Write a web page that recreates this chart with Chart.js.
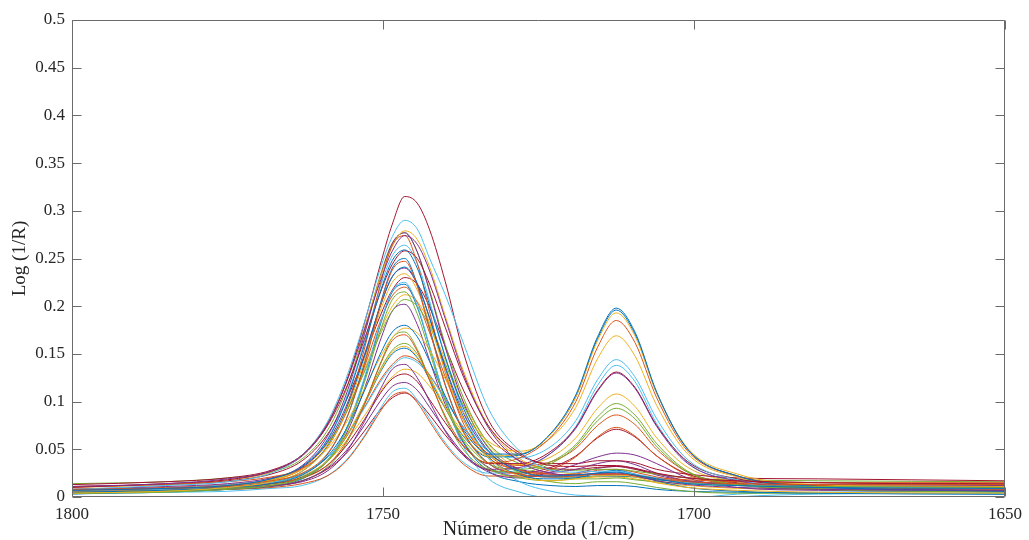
<!DOCTYPE html>
<html>
<head>
<meta charset="utf-8">
<title>Log (1/R)</title>
<script src="https://cdn.jsdelivr.net/npm/chart.js@4.4.1/dist/chart.umd.min.js"></script>
<style>
  html, body { margin: 0; padding: 0; background: #fff; }
  #wrap { width: 1029px; height: 540px; }
</style>
</head>
<body>
<div id="wrap"><canvas id="chart-spectra" width="1029" height="540"></canvas></div>
<script>
// Sampling points along the x axis (1/cm), high to low
const wavenumbers = [1800, 1785, 1775, 1768, 1763, 1759, 1756, 1753, 1750.5, 1748.5, 1746.5, 1744.5, 1742.5,
  1740, 1737, 1733, 1728, 1723, 1719, 1715.5, 1712.5, 1709.5, 1706, 1701, 1693, 1680, 1650];

// Log(1/R) per sample, one row per spectrum
const spectra = [
  [0.007, 0.009, 0.012, 0.019, 0.032, 0.059, 0.100, 0.159, 0.214, 0.248, 0.259, 0.240, 0.201, 0.147, 0.092, 0.048, 0.027, 0.022, 0.023, 0.025, 0.026, 0.023, 0.019, 0.014, 0.012, 0.010, 0.009],
  [0.008, 0.009, 0.012, 0.017, 0.025, 0.045, 0.080, 0.138, 0.199, 0.238, 0.247, 0.221, 0.175, 0.117, 0.067, 0.035, 0.024, 0.021, 0.022, 0.024, 0.024, 0.023, 0.019, 0.016, 0.014, 0.013, 0.013],
  [0.004, 0.006, 0.010, 0.016, 0.027, 0.052, 0.089, 0.143, 0.194, 0.225, 0.234, 0.217, 0.182, 0.132, 0.081, 0.041, 0.022, 0.017, 0.019, 0.022, 0.023, 0.021, 0.015, 0.010, 0.007, 0.005, 0.004],
  [0.011, 0.014, 0.019, 0.027, 0.044, 0.076, 0.118, 0.175, 0.225, 0.258, 0.274, 0.265, 0.237, 0.187, 0.128, 0.072, 0.037, 0.025, 0.023, 0.024, 0.024, 0.022, 0.017, 0.013, 0.010, 0.008, 0.007],
  [0.004, 0.006, 0.009, 0.012, 0.020, 0.037, 0.068, 0.120, 0.173, 0.207, 0.215, 0.192, 0.152, 0.101, 0.058, 0.030, 0.020, 0.017, 0.019, 0.019, 0.020, 0.018, 0.016, 0.014, 0.012, 0.011, 0.010],
  [0.008, 0.012, 0.016, 0.025, 0.044, 0.078, 0.123, 0.183, 0.238, 0.273, 0.290, 0.281, 0.250, 0.212, 0.160, 0.092, 0.048, 0.028, 0.026, 0.027, 0.027, 0.024, 0.020, 0.015, 0.012, 0.011, 0.009],
  [0.010, 0.014, 0.018, 0.027, 0.043, 0.075, 0.119, 0.182, 0.242, 0.286, 0.315, 0.308, 0.280, 0.226, 0.150, 0.080, 0.046, 0.033, 0.032, 0.033, 0.033, 0.030, 0.025, 0.020, 0.017, 0.015, 0.013],
  [0.005, 0.007, 0.010, 0.014, 0.023, 0.042, 0.070, 0.111, 0.149, 0.173, 0.180, 0.168, 0.142, 0.106, 0.070, 0.045, 0.045, 0.067, 0.107, 0.168, 0.198, 0.173, 0.110, 0.050, 0.022, 0.011, 0.006],
  [0.008, 0.009, 0.011, 0.014, 0.020, 0.033, 0.057, 0.097, 0.138, 0.164, 0.170, 0.153, 0.122, 0.085, 0.053, 0.036, 0.041, 0.063, 0.100, 0.157, 0.185, 0.162, 0.104, 0.048, 0.022, 0.012, 0.008],
  [0.006, 0.007, 0.010, 0.014, 0.022, 0.038, 0.063, 0.098, 0.131, 0.152, 0.158, 0.147, 0.125, 0.094, 0.064, 0.043, 0.045, 0.066, 0.105, 0.164, 0.193, 0.169, 0.109, 0.051, 0.024, 0.013, 0.009],
  [0.006, 0.007, 0.009, 0.012, 0.016, 0.027, 0.046, 0.079, 0.112, 0.134, 0.139, 0.125, 0.100, 0.069, 0.043, 0.029, 0.031, 0.046, 0.072, 0.111, 0.130, 0.114, 0.074, 0.035, 0.017, 0.010, 0.007],
  [0.004, 0.005, 0.008, 0.012, 0.020, 0.037, 0.062, 0.099, 0.133, 0.154, 0.161, 0.150, 0.126, 0.093, 0.060, 0.035, 0.029, 0.037, 0.055, 0.084, 0.098, 0.086, 0.056, 0.027, 0.013, 0.008, 0.005],
  [0.006, 0.008, 0.010, 0.015, 0.024, 0.041, 0.063, 0.093, 0.120, 0.137, 0.146, 0.141, 0.127, 0.102, 0.073, 0.048, 0.041, 0.053, 0.080, 0.123, 0.144, 0.126, 0.082, 0.039, 0.018, 0.010, 0.007],
  [0.007, 0.009, 0.011, 0.014, 0.020, 0.033, 0.053, 0.081, 0.108, 0.124, 0.129, 0.121, 0.102, 0.078, 0.053, 0.035, 0.035, 0.048, 0.073, 0.112, 0.131, 0.115, 0.075, 0.037, 0.019, 0.012, 0.009],
  [0.003, 0.006, 0.009, 0.015, 0.027, 0.053, 0.091, 0.147, 0.199, 0.231, 0.241, 0.224, 0.187, 0.135, 0.083, 0.042, 0.023, 0.019, 0.020, 0.025, 0.028, 0.024, 0.017, 0.010, 0.006, 0.004, 0.003],
  [0.011, 0.013, 0.016, 0.021, 0.030, 0.052, 0.090, 0.155, 0.221, 0.264, 0.274, 0.245, 0.194, 0.131, 0.076, 0.041, 0.028, 0.024, 0.023, 0.024, 0.024, 0.022, 0.020, 0.018, 0.016, 0.015, 0.015],
  [0.007, 0.009, 0.012, 0.018, 0.029, 0.050, 0.077, 0.113, 0.146, 0.167, 0.177, 0.172, 0.154, 0.124, 0.088, 0.058, 0.048, 0.062, 0.094, 0.145, 0.169, 0.148, 0.096, 0.045, 0.021, 0.012, 0.008],
  [0.005, 0.006, 0.008, 0.011, 0.017, 0.030, 0.048, 0.075, 0.100, 0.116, 0.120, 0.112, 0.094, 0.070, 0.045, 0.026, 0.020, 0.026, 0.034, 0.042, 0.046, 0.044, 0.035, 0.020, 0.010, 0.007, 0.006],
  [0.004, 0.006, 0.008, 0.011, 0.017, 0.031, 0.055, 0.097, 0.139, 0.167, 0.173, 0.155, 0.123, 0.083, 0.049, 0.029, 0.026, 0.035, 0.053, 0.080, 0.093, 0.082, 0.053, 0.026, 0.013, 0.009, 0.006],
  [0.004, 0.005, 0.008, 0.012, 0.020, 0.038, 0.070, 0.125, 0.181, 0.216, 0.225, 0.201, 0.158, 0.102, 0.052, 0.019, 0.005, -0.002, -0.006, -0.008, -0.008, -0.009, -0.009, -0.006, 0.000, 0.003, 0.004],
  [0.013, 0.016, 0.020, 0.028, 0.044, 0.074, 0.113, 0.165, 0.213, 0.244, 0.258, 0.250, 0.223, 0.178, 0.125, 0.074, 0.044, 0.035, 0.035, 0.038, 0.038, 0.036, 0.029, 0.024, 0.020, 0.019, 0.017],
  [0.006, 0.008, 0.010, 0.014, 0.021, 0.038, 0.062, 0.097, 0.130, 0.150, 0.156, 0.146, 0.123, 0.093, 0.063, 0.042, 0.044, 0.066, 0.105, 0.166, 0.196, 0.171, 0.109, 0.050, 0.022, 0.012, 0.007],
  [0.006, 0.007, 0.008, 0.010, 0.014, 0.022, 0.037, 0.063, 0.089, 0.106, 0.110, 0.099, 0.079, 0.055, 0.034, 0.022, 0.022, 0.029, 0.042, 0.063, 0.073, 0.064, 0.043, 0.023, 0.013, 0.009, 0.008],
  [0.005, 0.006, 0.009, 0.013, 0.021, 0.037, 0.058, 0.085, 0.110, 0.126, 0.134, 0.130, 0.116, 0.094, 0.067, 0.043, 0.034, 0.042, 0.062, 0.093, 0.108, 0.095, 0.062, 0.031, 0.016, 0.010, 0.007],
  [0.008, 0.011, 0.014, 0.020, 0.031, 0.057, 0.094, 0.149, 0.199, 0.231, 0.240, 0.223, 0.188, 0.137, 0.087, 0.047, 0.029, 0.026, 0.029, 0.035, 0.038, 0.034, 0.025, 0.017, 0.012, 0.010, 0.009],
  [0.006, 0.009, 0.012, 0.018, 0.031, 0.056, 0.088, 0.131, 0.170, 0.195, 0.207, 0.200, 0.179, 0.140, 0.095, 0.052, 0.025, 0.016, 0.014, 0.016, 0.016, 0.014, 0.010, 0.006, 0.004, 0.004, 0.004],
  [0.004, 0.005, 0.006, 0.009, 0.012, 0.022, 0.038, 0.064, 0.092, 0.110, 0.114, 0.102, 0.082, 0.057, 0.036, 0.025, 0.029, 0.046, 0.074, 0.117, 0.138, 0.121, 0.077, 0.036, 0.016, 0.009, 0.005],
  [0.007, 0.008, 0.010, 0.012, 0.017, 0.029, 0.045, 0.069, 0.091, 0.104, 0.109, 0.101, 0.086, 0.065, 0.044, 0.028, 0.025, 0.031, 0.043, 0.062, 0.071, 0.063, 0.043, 0.024, 0.015, 0.011, 0.010],
  [0.007, 0.008, 0.011, 0.016, 0.024, 0.044, 0.080, 0.140, 0.201, 0.240, 0.250, 0.223, 0.177, 0.118, 0.068, 0.035, 0.024, 0.021, 0.021, 0.022, 0.022, 0.021, 0.018, 0.016, 0.014, 0.013, 0.013],
  [0.006, 0.008, 0.010, 0.015, 0.024, 0.041, 0.064, 0.094, 0.122, 0.139, 0.148, 0.143, 0.128, 0.103, 0.072, 0.045, 0.033, 0.037, 0.051, 0.075, 0.086, 0.076, 0.050, 0.026, 0.014, 0.009, 0.007],
  [0.010, 0.013, 0.018, 0.026, 0.044, 0.077, 0.120, 0.177, 0.229, 0.263, 0.279, 0.270, 0.241, 0.190, 0.131, 0.074, 0.040, 0.028, 0.024, 0.023, 0.022, 0.021, 0.018, 0.016, 0.014, 0.012, 0.011],
  [0.006, 0.008, 0.012, 0.019, 0.033, 0.063, 0.106, 0.170, 0.229, 0.266, 0.277, 0.257, 0.215, 0.157, 0.098, 0.051, 0.029, 0.024, 0.023, 0.025, 0.025, 0.023, 0.019, 0.015, 0.013, 0.011, 0.010],
  [0.014, 0.016, 0.020, 0.026, 0.040, 0.069, 0.111, 0.173, 0.231, 0.266, 0.277, 0.257, 0.217, 0.160, 0.103, 0.056, 0.035, 0.029, 0.028, 0.029, 0.029, 0.027, 0.024, 0.020, 0.018, 0.017, 0.016],
  [0.007, 0.009, 0.013, 0.019, 0.032, 0.060, 0.102, 0.162, 0.219, 0.253, 0.264, 0.245, 0.205, 0.147, 0.088, 0.040, 0.016, 0.006, 0.002, 0.001, 0.000, 0.000, -0.001, -0.001, 0.003, 0.005, 0.006],
  [0.011, 0.013, 0.017, 0.024, 0.038, 0.065, 0.100, 0.147, 0.189, 0.217, 0.230, 0.223, 0.199, 0.158, 0.111, 0.065, 0.038, 0.030, 0.029, 0.031, 0.032, 0.029, 0.024, 0.020, 0.017, 0.015, 0.014],
  [0.004, 0.005, 0.008, 0.012, 0.019, 0.038, 0.070, 0.123, 0.179, 0.215, 0.223, 0.199, 0.157, 0.103, 0.057, 0.027, 0.016, 0.012, 0.011, 0.012, 0.012, 0.011, 0.008, 0.006, 0.005, 0.004, 0.003],
  [0.008, 0.010, 0.013, 0.018, 0.029, 0.052, 0.087, 0.136, 0.183, 0.211, 0.220, 0.204, 0.172, 0.126, 0.080, 0.044, 0.027, 0.023, 0.024, 0.028, 0.029, 0.026, 0.021, 0.016, 0.013, 0.012, 0.011],
  [0.004, 0.006, 0.009, 0.016, 0.030, 0.055, 0.088, 0.133, 0.173, 0.200, 0.212, 0.205, 0.182, 0.144, 0.099, 0.055, 0.029, 0.021, 0.020, 0.021, 0.021, 0.019, 0.015, 0.012, 0.009, 0.008, 0.007],
  [0.006, 0.008, 0.010, 0.014, 0.020, 0.037, 0.065, 0.113, 0.163, 0.195, 0.202, 0.181, 0.143, 0.097, 0.056, 0.031, 0.022, 0.022, 0.025, 0.030, 0.032, 0.030, 0.023, 0.017, 0.014, 0.013, 0.012]
];

// MATLAB-style line colour order
const lineColors = ['#0072BD', '#D95319', '#EDB120', '#7E2F8E', '#77AC30', '#4DBEEE', '#A2142F'];

const yTicks = [0, 0.05, 0.1, 0.15, 0.2, 0.25, 0.3, 0.35, 0.4, 0.45, 0.5];
const xTicks = [1800, 1750, 1700, 1650];

const SERIF = "'Liberation Serif', 'Times New Roman', serif";
const TICK_LEN = 9;

// Box around the plot with inward tick marks on all four sides
const axisBox = {
  id: 'axisBox',
  afterDatasetsDraw(chart) {
    const { ctx, chartArea: { left, right, top, bottom }, scales: { x, y } } = chart;
    const l = Math.round(left) + 0.5, r = Math.round(right) - 0.5;
    const t = Math.round(top) + 0.5, b = Math.round(bottom) - 0.5;
    ctx.save();
    ctx.strokeStyle = '#6b6b6b';
    ctx.lineWidth = 1;
    ctx.beginPath();
    ctx.rect(l, t, r - l, b - t);
    yTicks.forEach(v => {
      const py = Math.round(y.getPixelForValue(v)) + 0.5;
      ctx.moveTo(l, py); ctx.lineTo(l + TICK_LEN, py);
      ctx.moveTo(r, py); ctx.lineTo(r - TICK_LEN, py);
    });
    xTicks.forEach(v => {
      const px = Math.round(x.getPixelForValue(v)) + 0.5;
      ctx.moveTo(px, b); ctx.lineTo(px, b - TICK_LEN);
      ctx.moveTo(px, t); ctx.lineTo(px, t + TICK_LEN);
    });
    ctx.stroke();
    ctx.restore();
  }
};

const datasets = spectra.map((row, i) => ({
  label: 'spectrum ' + (i + 1),
  data: wavenumbers.map((w, k) => ({ x: w, y: row[k] })),
  borderColor: lineColors[i % lineColors.length],
  borderWidth: 1,
  pointRadius: 0,
  fill: false,
  cubicInterpolationMode: 'monotone'
}));

new Chart(document.getElementById('chart-spectra'), {
  type: 'line',
  data: { datasets },
  plugins: [axisBox],
  options: {
    responsive: false,
    animation: false,
    devicePixelRatio: 1,
    layout: { padding: { top: 20, right: 20, left: 0, bottom: 0 } },
    plugins: { legend: { display: false }, tooltip: { enabled: false } },
    scales: {
      x: {
        type: 'linear',
        reverse: true,
        min: 1650,
        max: 1800,
        afterBuildTicks: (s) => { s.ticks = xTicks.map(v => ({ value: v })); },
        afterFit: (s) => { s.height = 43; },
        grid: { display: false, drawTicks: false },
        border: { display: false },
        ticks: {
          padding: 7,
          color: '#262626',
          font: { family: SERIF, size: 17 },
          maxRotation: 0,
          callback: (v) => String(v)
        },
        title: {
          display: true,
          text: 'Número de onda (1/cm)',
          color: '#262626',
          font: { family: SERIF, size: 20 },
          padding: { top: 0, bottom: -2 }
        }
      },
      y: {
        min: 0,
        max: 0.5,
        afterBuildTicks: (s) => { s.ticks = yTicks.map(v => ({ value: v })); },
        afterFit: (s) => { s.width = 72; },
        grid: { display: false, drawTicks: false },
        border: { display: false },
        ticks: {
          padding: 7,
          color: '#262626',
          font: { family: SERIF, size: 17 },
          callback: (v) => String(+v.toFixed(2))
        },
        title: {
          display: true,
          text: 'Log (1/R)',
          color: '#262626',
          font: { family: SERIF, size: 19 },
          padding: { top: 9, bottom: 0 }
        }
      }
    }
  }
});
</script>
</body>
</html>
